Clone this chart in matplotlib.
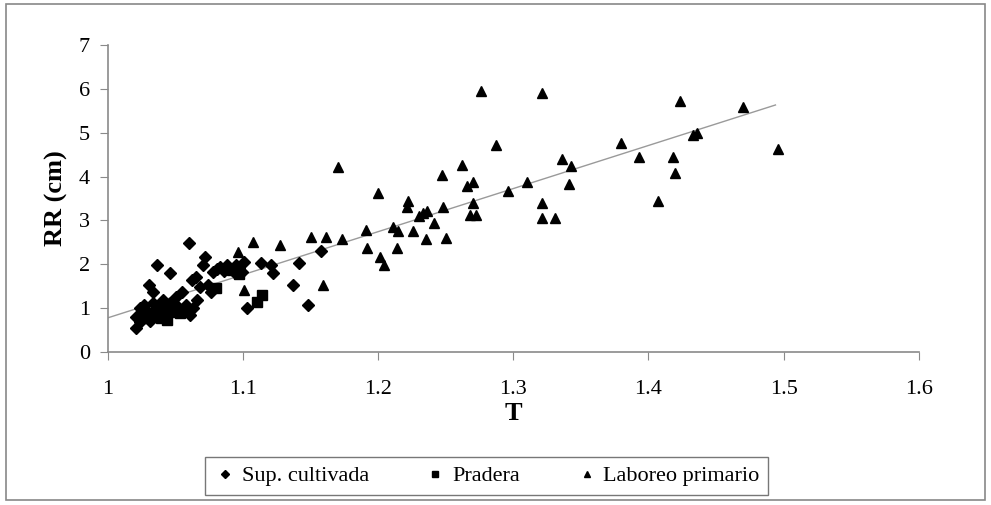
import numpy as np
import matplotlib
matplotlib.use("Agg")
import matplotlib.pyplot as plt
from matplotlib.patches import Rectangle

plt.rcParams['font.family'] = ['Liberation Serif', 'DejaVu Serif']

# Sup. cultivada
cult_x = [1.060, 1.036, 1.046, 1.030, 1.033, 1.055, 1.062, 1.068, 1.074, 1.076,
          1.066, 1.063, 1.061, 1.072, 1.070, 1.078, 1.083, 1.088, 1.095, 1.094,
          1.101, 1.099, 1.113, 1.121, 1.122, 1.137, 1.141, 1.158, 1.148, 1.103,
          1.024, 1.027, 1.033, 1.041, 1.046, 1.021, 1.021, 1.024, 1.050, 1.058,
          1.086, 1.090, 1.028, 1.036, 1.052, 1.040, 1.081, 1.097, 1.065, 1.031]
cult_y = [2.48, 1.98, 1.80, 1.53, 1.37, 1.37, 1.64, 1.48, 1.53, 1.37,
          1.19, 1.00, 0.84, 2.17, 1.98, 1.82, 1.94, 1.98, 1.98, 1.80,
          2.05, 1.82, 2.03, 1.98, 1.80, 1.53, 2.03, 2.30, 1.07, 1.00,
          1.00, 1.07, 1.12, 1.19, 1.12, 0.80, 0.55, 0.68, 1.25, 1.07,
          1.85, 1.90, 0.95, 0.92, 1.02, 1.05, 1.90, 1.92, 1.70, 0.70]

# Pradera
prad_x = [1.110, 1.114, 1.026, 1.033, 1.039, 1.044, 1.047, 1.053, 1.080, 1.092,
          1.097, 1.043, 1.029, 1.056, 1.038]
prad_y = [1.14, 1.30, 0.78, 0.80, 0.78, 0.73, 0.91, 0.89, 1.45, 1.87,
          1.78, 1.00, 0.90, 0.95, 0.88]

# Laboreo primario
lab_x = [1.276, 1.321, 1.423, 1.470, 1.496, 1.436, 1.433, 1.380, 1.393, 1.418,
         1.420, 1.407, 1.336, 1.343, 1.341, 1.321, 1.321, 1.331, 1.310, 1.296,
         1.287, 1.270, 1.266, 1.262, 1.270, 1.268, 1.272, 1.247, 1.248, 1.250,
         1.241, 1.233, 1.230, 1.236, 1.235, 1.222, 1.221, 1.226, 1.211, 1.215,
         1.214, 1.200, 1.201, 1.204, 1.191, 1.192, 1.170, 1.173, 1.161, 1.150,
         1.159, 1.127, 1.107, 1.096, 1.101]
lab_y = [5.95, 5.90, 5.72, 5.59, 4.63, 4.99, 4.95, 4.77, 4.45, 4.45,
         4.08, 3.44, 4.40, 4.24, 3.83, 3.40, 3.06, 3.06, 3.88, 3.67,
         4.72, 3.88, 3.79, 4.26, 3.40, 3.12, 3.12, 4.04, 3.31, 2.60,
         2.94, 3.17, 3.10, 3.22, 2.58, 3.44, 3.31, 2.76, 2.85, 2.76,
         2.37, 3.62, 2.17, 1.98, 2.78, 2.37, 4.22, 2.58, 2.62, 2.62,
         1.53, 2.43, 2.50, 2.28, 1.41]

# linear trend line (all data)
trend_slope = 9.82
trend_intercept = -9.04
trend_range = [1.0, 1.494]

fig = plt.figure(figsize=(9.91, 5.05), dpi=100)
ax = fig.add_axes([0.109, 0.303, 0.818, 0.608])

tx = np.array(trend_range)
ax.plot(tx, trend_slope * tx + trend_intercept, color='#9a9a9a', lw=1.0, zorder=1)

ax.plot(cult_x, cult_y, 'D', color='black', ms=6.5, label='Sup. cultivada', zorder=3)
ax.plot(prad_x, prad_y, 's', color='black', ms=6.5, label='Pradera', zorder=3)
ax.plot(lab_x, lab_y, '^', color='black', ms=7.5, label='Laboreo primario', zorder=3)

ax.set_xlim(1, 1.6)
ax.set_ylim(0, 7)
ax.set_xticks(np.arange(1, 1.61, 0.1))
ax.set_xticklabels(['1', '1.1', '1.2', '1.3', '1.4', '1.5', '1.6'])
ax.set_yticks(range(0, 8))

for s in ['top', 'right']:
    ax.spines[s].set_visible(False)
for s in ['left', 'bottom']:
    ax.spines[s].set_color('#8a8a8a')
    ax.spines[s].set_linewidth(1.2)

ax.tick_params(axis='x', direction='out', length=6, color='#8a8a8a', pad=14, labelsize=16)
ax.tick_params(axis='y', direction='out', length=6, color='#8a8a8a', pad=7, labelsize=16)

ax.set_xlabel('T', fontsize=19, fontweight='bold', labelpad=2)
ax.set_ylabel('RR (cm)', fontsize=19, fontweight='bold', labelpad=8)

leg = fig.legend(loc='center', bbox_to_anchor=(0.491, 0.057), ncol=3,
                 fontsize=16, frameon=True, fancybox=False, edgecolor='#555555',
                 handletextpad=0.25, columnspacing=2.5, markerscale=0.65,
                 handlelength=1.0, borderpad=0.4, borderaxespad=0)
leg.get_frame().set_linewidth(1.0)

# outer border around the chart
fig.patches.append(Rectangle((0.006, 0.01), 0.988, 0.982, transform=fig.transFigure,
                             fill=False, edgecolor='#888888', lw=1.2))

fig.savefig('out.png', dpi=100)
